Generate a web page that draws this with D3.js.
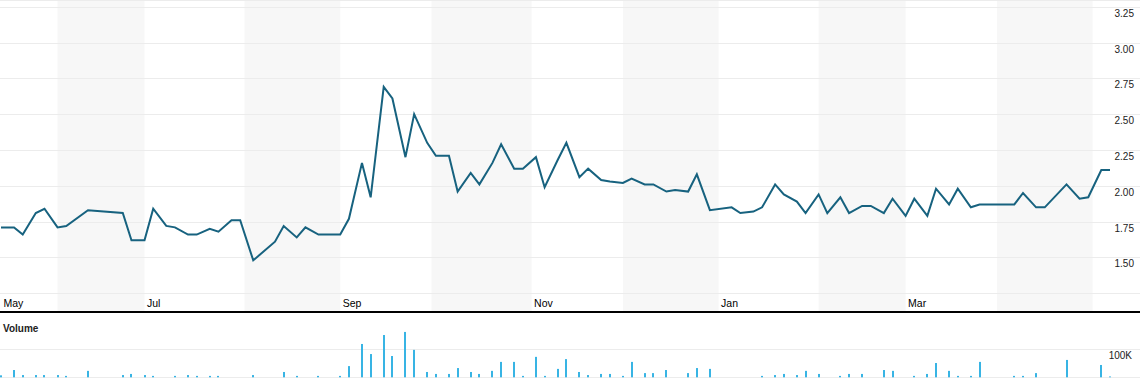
<!DOCTYPE html>
<html>
<head>
<meta charset="utf-8">
<script src="https://cdn.jsdelivr.net/npm/d3@7"></script>
<style>
  body { margin: 0; background: #fff; }
  svg { display: block; font-family: Arial, "Liberation Sans", sans-serif; }
</style>
</head>
<body>
<div id="chart"></div>
<script>
// closing prices (sampled trading days)
var priceDates = [
  "2013-05-15","2013-05-20","2013-05-22","2013-05-27","2013-05-29","2013-06-03","2013-06-05","2013-06-12",
  "2013-06-24","2013-06-26","2013-07-01","2013-07-03","2013-07-08","2013-07-10","2013-07-15","2013-07-17",
  "2013-07-22","2013-07-24","2013-07-29","2013-07-31","2013-08-05","2013-08-12","2013-08-14","2013-08-19",
  "2013-08-21","2013-08-26","2013-09-02","2013-09-04","2013-09-09","2013-09-11","2013-09-16","2013-09-18",
  "2013-09-23","2013-09-25","2013-09-30","2013-10-02","2013-10-07","2013-10-09","2013-10-14","2013-10-16",
  "2013-10-21","2013-10-23","2013-10-28","2013-10-30","2013-11-04","2013-11-06","2013-11-11","2013-11-13",
  "2013-11-18","2013-11-20","2013-11-25","2013-11-27","2013-12-02","2013-12-04","2013-12-09","2013-12-11",
  "2013-12-16","2013-12-18","2013-12-23","2013-12-25","2013-12-30","2014-01-06","2014-01-08","2014-01-13",
  "2014-01-15","2014-01-20","2014-01-22","2014-01-27","2014-01-29","2014-02-03","2014-02-05","2014-02-10",
  "2014-02-12","2014-02-17","2014-02-19","2014-02-24","2014-02-26","2014-03-03","2014-03-05","2014-03-10",
  "2014-03-12","2014-03-17","2014-03-19","2014-03-24","2014-03-26","2014-03-31","2014-04-02","2014-04-07",
  "2014-04-09","2014-04-14","2014-04-16","2014-04-23","2014-04-28","2014-04-30","2014-05-05","2014-05-07"
];
var prices = [
  1.71, 1.71, 1.66, 1.81, 1.84, 1.71, 1.72, 1.83,
  1.81, 1.62, 1.62, 1.84, 1.72, 1.71, 1.66, 1.66,
  1.70, 1.68, 1.76, 1.76, 1.48, 1.61, 1.72, 1.64,
  1.71, 1.66, 1.66, 1.77, 2.16, 1.92, 2.69, 2.61,
  2.20, 2.50, 2.30, 2.21, 2.21, 1.96, 2.09, 2.01,
  2.16, 2.29, 2.12, 2.12, 2.20, 1.99, 2.18, 2.30,
  2.06, 2.12, 2.04, 2.03, 2.02, 2.05, 2.01, 2.01,
  1.96, 1.97, 1.96, 2.08, 1.83, 1.85, 1.81, 1.82,
  1.85, 2.01, 1.94, 1.89, 1.81, 1.94, 1.81, 1.92,
  1.81, 1.86, 1.86, 1.81, 1.91, 1.79, 1.91, 1.79,
  1.98, 1.87, 1.98, 1.85, 1.87, 1.87, 1.87, 1.87,
  1.95, 1.85, 1.85, 2.01, 1.91, 1.92, 2.11, 2.11
];

// volume, thousands of shares
var volumeDates = [
  "2013-05-15","2013-05-20","2013-05-22","2013-05-27","2013-05-29","2013-06-03","2013-06-05","2013-06-12",
  "2013-06-24","2013-06-26","2013-07-01","2013-07-03","2013-07-10","2013-07-15","2013-07-17","2013-07-22",
  "2013-07-24","2013-08-05","2013-08-14","2013-08-19","2013-08-26","2013-09-02","2013-09-04","2013-09-09",
  "2013-09-11","2013-09-16","2013-09-18","2013-09-23","2013-09-25","2013-09-30","2013-10-02","2013-10-07",
  "2013-10-09","2013-10-14","2013-10-16","2013-10-21","2013-10-23","2013-10-28","2013-10-30","2013-11-04",
  "2013-11-06","2013-11-11","2013-11-13","2013-11-18","2013-11-20","2013-11-25","2013-11-27","2013-12-02",
  "2013-12-04","2013-12-09","2013-12-11","2013-12-16","2013-12-23","2013-12-25","2013-12-30","2014-01-15",
  "2014-01-20","2014-01-22","2014-01-27","2014-01-29","2014-02-03","2014-02-10","2014-02-12","2014-02-17",
  "2014-02-24","2014-02-26","2014-03-05","2014-03-10","2014-03-12","2014-03-17","2014-03-19","2014-03-24",
  "2014-03-26","2014-04-07","2014-04-09","2014-04-14","2014-04-23","2014-05-05","2014-05-07"
];
var volumes = [
  7, 26, 8, 8, 8, 8, 5, 23,
  8, 12, 8, 5, 5, 8, 5, 5,
  5, 8, 19, 5, 5, 5, 40, 119,
  83, 151, 76, 162, 98, 19, 12, 12,
  33, 19, 12, 23, 55, 55, 5, 73,
  5, 30, 65, 19, 8, 12, 12, 5,
  55, 15, 15, 26, 15, 33, 30, 5,
  8, 12, 8, 23, 12, 5, 12, 12,
  26, 23, 5, 12, 51, 23, 5, 5,
  55, 5, 5, 15, 62, 44, 3
];

var priceTicks = [1.25, 1.5, 1.75, 2.0, 2.25, 2.5, 2.75, 3.0, 3.25];
var volumeTicks = [0, 100];

var width = 1140, height = 392;
var parse = d3.timeParse("%Y-%m-%d");

// x axis runs on weekdays, so weekends take no room
var refMonday = parse("2013-06-03");
function tradingIndex(d) {
  var days = Math.round((d - refMonday) / 864e5);
  var w = Math.floor(days / 7);
  return w * 5 + Math.min(days - w * 7, 5);
}

var x = d3.scaleLinear()
  .domain([tradingIndex(parse(priceDates[0])), tradingIndex(parse(priceDates[priceDates.length - 1]))])
  .range([1, 1110]);
var y = d3.scaleLinear().domain([1.25, 3.25]).range([293.3, 6.7]);
var v = d3.scaleLinear().domain([0, 100]).range([377.3, 349.3]);

var svg = d3.select("#chart").append("svg")
  .attr("width", width)
  .attr("height", height);

// alternate month shading
var months = d3.timeMonth.range(parse("2013-05-01"), parse("2014-06-01"));
var shaded = [];
for (var i = 1; i < months.length - 1; i += 2) {
  shaded.push([months[i], months[i + 1]]);
}
svg.selectAll(".band")
  .data(shaded).enter()
  .append("rect")
    .attr("class", "band")
    .attr("x", function(d) { return x(tradingIndex(d[0])); })
    .attr("y", 0)
    .attr("width", function(d) { return x(tradingIndex(d[1])) - x(tradingIndex(d[0])); })
    .attr("height", 311)
    .style("fill", "#f7f7f7");

svg.append("line")
  .attr("x1", 0).attr("x2", width)
  .attr("y1", 0.5).attr("y2", 0.5)
  .style("stroke", "#ececec");

// price grid + labels
var yGrid = y.copy().interpolate(d3.interpolateRound);
var yAxis = svg.append("g")
  .call(d3.axisRight(yGrid)
    .tickValues(priceTicks)
    .tickSize(width)
    .tickFormat(function(d) { return d === 1.25 ? "" : d3.format(".2f")(d); }));
yAxis.select(".domain").remove();
yAxis.selectAll("line").style("stroke", "#ececec");
yAxis.selectAll("text")
  .attr("x", 1134)
  .attr("dy", 9)
  .attr("text-anchor", "end")
  .style("font-size", "10px")
  .style("fill", "#222");

// month labels
var labelMonths = months.filter(function(d, i) { return i % 2 === 0 && i < months.length - 1; });
var xAxis = svg.append("g")
  .attr("transform", "translate(0,293)")
  .call(d3.axisBottom(x)
    .tickValues(labelMonths.map(tradingIndex))
    .tickSize(0)
    .tickFormat(function(d, i) { return d3.timeFormat("%b")(labelMonths[i]); }));
xAxis.select(".domain").remove();
xAxis.selectAll("text")
  .attr("text-anchor", "start")
  .attr("x", function(d) { return Math.max(2, 3 - x(d)); })
  .attr("y", 14)
  .attr("dy", 0)
  .style("font-size", "10.5px")
  .style("fill", "#000");

// price line
var line = d3.line()
  .x(function(d, i) { return x(tradingIndex(parse(priceDates[i]))); })
  .y(function(d) { return y(d); });

svg.append("path")
  .datum(prices)
  .attr("d", line)
  .style("fill", "none")
  .style("stroke", "#17627f")
  .style("stroke-width", 2);

// separator
svg.append("rect")
  .attr("x", 0).attr("y", 311)
  .attr("width", width).attr("height", 2)
  .style("fill", "#000");

// volume panel
svg.append("text")
  .attr("x", 3)
  .attr("y", 332)
  .style("font", "bold 10px Arial, 'Liberation Sans', sans-serif")
  .style("fill", "#222")
  .text("Volume");

var vGrid = v.copy().interpolate(d3.interpolateRound);
var vAxis = svg.append("g")
  .call(d3.axisRight(vGrid)
    .tickValues(volumeTicks)
    .tickSize(width)
    .tickFormat(function(d) { return d === 0 ? "" : d + "K"; }));
vAxis.select(".domain").remove();
vAxis.selectAll("line").style("stroke", "#ececec");
vAxis.selectAll("text")
  .attr("x", 1132)
  .attr("dy", 9)
  .attr("text-anchor", "end")
  .style("font-size", "10px")
  .style("fill", "#222");

svg.selectAll(".vol")
  .data(volumes).enter()
  .append("rect")
    .attr("class", "vol")
    .attr("x", function(d, i) { return Math.round(x(tradingIndex(parse(volumeDates[i])))) - 1; })
    .attr("y", function(d) { return v(d); })
    .attr("width", 2)
    .attr("height", function(d) { return v(0) - v(d); })
    .style("fill", "#38b4e4");
</script>
</body>
</html>
